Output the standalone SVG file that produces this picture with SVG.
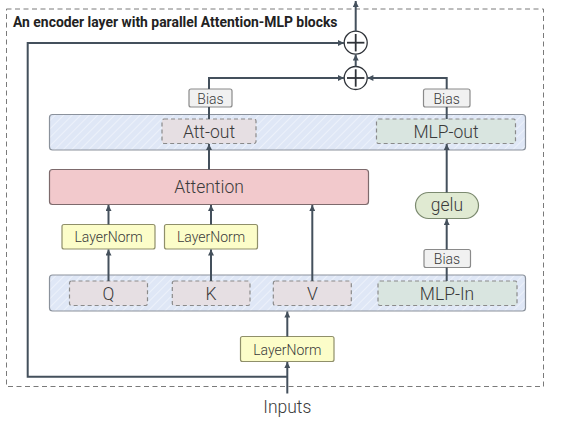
<svg xmlns="http://www.w3.org/2000/svg" width="577" height="425" viewBox="0 0 577 425">
<defs>
<style>
.t{font-family:Roboto,"Liberation Sans",sans-serif;font-weight:300;fill:#3a3a3a;text-anchor:middle;dominant-baseline:central}
.ttl{font-family:Roboto,"Liberation Sans",sans-serif;font-weight:bold;font-size:13.9px;fill:#222}
.band{fill:url(#hatch);stroke:#8b929c;stroke-width:1.2}
.att{fill:#e6dfe3;stroke:#8a8a8a;stroke-width:1.2;stroke-dasharray:4 3}
.mlp{fill:#d9e5e0;stroke:#8a8a8a;stroke-width:1.2;stroke-dasharray:4 3}
.ln{fill:#fcfdc9;stroke:#8f8f6a;stroke-width:1.2}
.bias{fill:#f1f1f1;stroke:#8a8a8a;stroke-width:1.2}
.attn{fill:#f2c9cc;stroke:#7d6a6c;stroke-width:1.2}
.gelu{fill:#e0ead2;stroke:#7c8a70;stroke-width:1.2}
.c{fill:none;stroke:#44505c;stroke-width:2}
.sum{fill:#fff;stroke:#2e3238;stroke-width:1.3}
.plus{stroke:#2e3238;stroke-width:1.8}
</style>
<pattern id="hatch" patternUnits="userSpaceOnUse" width="6" height="6" patternTransform="rotate(45)">
<rect width="6" height="6" fill="#dfe7f6"/>
<line x1="0" y1="0" x2="0" y2="6" stroke="#ecf1fa" stroke-width="2"/>
</pattern>
<marker id="ah" viewBox="0 0 10 10" refX="10" refY="5" markerWidth="7" markerHeight="6" markerUnits="userSpaceOnUse" orient="auto">
<path d="M0,0 L10,5 L0,10 z" fill="#44505c"/>
</marker>
</defs>
<rect x="6.5" y="9" width="537" height="377.5" fill="none" stroke="#7a7a7a" stroke-width="1" stroke-dasharray="5 3.5"/>
<text class="ttl" x="13" y="27">An encoder layer with parallel Attention-MLP blocks</text>

<g id="band-out"><rect class="band" x="49.5" y="114.5" width="476" height="35.5" rx="3"/></g>
<g id="att-out"><rect class="att" x="162" y="119" width="94" height="24.5" rx="2"/><text class="t" x="209" y="132" font-size="17.5">Att-out</text></g>
<g id="mlp-out"><rect class="mlp" x="376.5" y="119" width="139" height="24.5" rx="2"/><text class="t" x="446" y="132" font-size="17.5">MLP-out</text></g>
<g id="bias-att"><rect class="bias" x="189" y="89" width="43" height="18" rx="2"/><text class="t" x="210.5" y="98.5" font-size="14">Bias</text></g>
<g id="bias-mlp"><rect class="bias" x="423.5" y="89" width="46.5" height="18" rx="2"/><text class="t" x="446.7" y="98.5" font-size="14">Bias</text></g>
<g id="sum1"><circle class="sum" cx="355.7" cy="42.7" r="11.5"/><line class="plus" x1="347" y1="42.7" x2="364.4" y2="42.7"/><line class="plus" x1="355.7" y1="34" x2="355.7" y2="51.4"/></g>
<g id="sum2"><circle class="sum" cx="355.7" cy="78" r="11.5"/><line class="plus" x1="347" y1="78" x2="364.4" y2="78"/><line class="plus" x1="355.7" y1="69.3" x2="355.7" y2="86.7"/></g>
<g id="attention"><rect class="attn" x="49.5" y="169.5" width="319" height="35" rx="3"/><text class="t" x="209" y="187" font-size="17.5">Attention</text></g>
<g id="gelu"><rect class="gelu" x="415.5" y="192.5" width="63" height="26" rx="13"/><text class="t" x="447" y="205" font-size="17.5">gelu</text></g>
<g id="ln-q"><rect class="ln" x="62" y="224.5" width="93" height="24.5" rx="2"/><text class="t" x="108.5" y="237" font-size="14">LayerNorm</text></g>
<g id="ln-k"><rect class="ln" x="164.5" y="224.5" width="93" height="24.5" rx="2"/><text class="t" x="211" y="237" font-size="14">LayerNorm</text></g>
<g id="bias-in"><rect class="bias" x="424" y="249.5" width="46.5" height="18" rx="2"/><text class="t" x="447" y="259" font-size="14">Bias</text></g>
<g id="band-in"><rect class="band" x="49.5" y="275" width="476" height="36" rx="3"/></g>
<g id="q"><rect class="att" x="69.5" y="281" width="78" height="24.5" rx="2"/><text class="t" x="108.5" y="294" font-size="17.5">Q</text></g>
<g id="k"><rect class="att" x="172.3" y="281" width="77.7" height="24.5" rx="2"/><text class="t" x="211" y="294" font-size="17.5">K</text></g>
<g id="v"><rect class="att" x="273.3" y="281" width="78" height="24.5" rx="2"/><text class="t" x="312.3" y="294" font-size="17.5">V</text></g>
<g id="mlp-in"><rect class="mlp" x="378" y="281" width="139" height="24.5" rx="2"/><text class="t" x="447" y="294" font-size="17.5">MLP-In</text></g>
<g id="ln-in"><rect class="ln" x="240.5" y="336.5" width="93.5" height="25" rx="2"/><text class="t" x="287.3" y="349.5" font-size="14">LayerNorm</text></g>
<g id="inputs"><text class="t" x="287.3" y="407" font-size="17.5">Inputs</text></g>

<g id="connectors">
<line class="c" x1="287.3" y1="393.5" x2="287.3" y2="362" marker-end="url(#ah)"/>
<path class="c" d="M287.3 376.7 H27.7 V43 H344" stroke-width="2.4" marker-end="url(#ah)"/>
<line class="c" x1="287.3" y1="336.5" x2="287.3" y2="311.5" marker-end="url(#ah)"/>
<line class="c" x1="108.5" y1="281" x2="108.5" y2="249.5" marker-end="url(#ah)"/>
<line class="c" x1="108.5" y1="224.5" x2="108.5" y2="205" marker-end="url(#ah)"/>
<line class="c" x1="211" y1="281" x2="211" y2="249.5" marker-end="url(#ah)"/>
<line class="c" x1="211" y1="224.5" x2="211" y2="205" marker-end="url(#ah)"/>
<line class="c" x1="312.3" y1="281" x2="312.3" y2="205" marker-end="url(#ah)"/>
<line class="c" x1="446.7" y1="281" x2="446.7" y2="267.5"/>
<line class="c" x1="446.7" y1="249.5" x2="446.7" y2="219" marker-end="url(#ah)"/>
<line class="c" x1="446.7" y1="192.5" x2="446.7" y2="144" marker-end="url(#ah)"/>
<line class="c" x1="209" y1="169.5" x2="209" y2="144" marker-end="url(#ah)"/>
<line class="c" x1="209" y1="119" x2="209" y2="107"/>
<path class="c" d="M209 89 V78 H344" marker-end="url(#ah)"/>
<line class="c" x1="446.7" y1="119" x2="446.7" y2="107"/>
<path class="c" d="M446.7 89 V78 H367.4" marker-end="url(#ah)"/>
<line class="c" x1="355.7" y1="66.5" x2="355.7" y2="54.5" marker-end="url(#ah)"/>
<line class="c" x1="355.7" y1="31.2" x2="355.7" y2="1" marker-end="url(#ah)"/>
</g>
</svg>
